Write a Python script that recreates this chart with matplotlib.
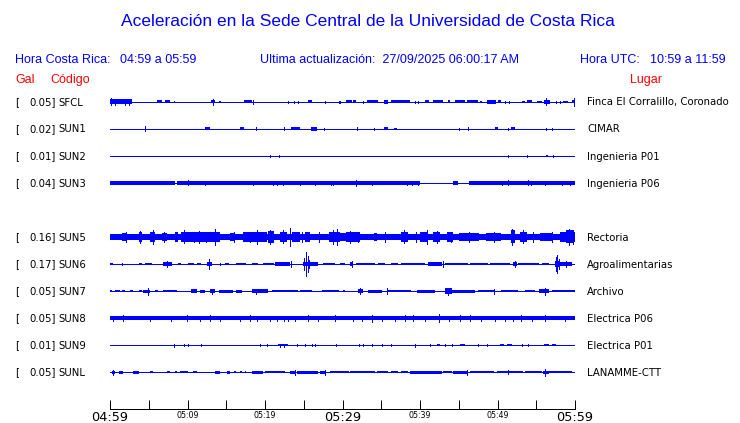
import matplotlib
matplotlib.use("Agg")
import matplotlib.pyplot as plt

# ---------------- data ----------------
title = "Aceleración en la Sede Central de la Universidad de Costa Rica"
hora_cr = "04:59 a 05:59"
hora_utc = "10:59 a 11:59"
actualizacion = "27/09/2025 06:00:17 AM"

stations = ["SFCL", "SUN1", "SUN2", "SUN3", "SUN5", "SUN6", "SUN7", "SUN8", "SUN9", "SUNL"]
gal = [0.05, 0.02, 0.01, 0.04, 0.16, 0.17, 0.05, 0.05, 0.01, 0.05]
places = ["Finca El Corralillo, Coronado", "CIMAR", "Ingenieria P01", "Ingenieria P06",
          "Rectoria", "Agroalimentarias", "Archivo", "Electrica P06", "Electrica P01",
          "LANAMME-CTT"]

tick_minutes = [0, 5, 10, 15, 20, 25, 30, 35, 40, 45, 50, 55, 60]
tick_labels = ["04:59", "", "05:09", "", "05:19", "", "05:29", "", "05:39", "", "05:49", "", "05:59"]
big_labels = ["04:59", "05:29", "05:59"]

# bursts: (start minute, end minute, half amplitude in px) ; spikes: (minute, half amplitude px)
sfcl_bursts = [(0, 2.8, 2.5), (6.0, 6.7, 1.5), (7.1, 7.7, 1.5), (8.3, 8.45, 1.0), (13.0, 13.5, 1.5),
               (14.0, 14.3, 1.2), (14.8, 14.9, 1.0), (17.3, 18.3, 1.5), (25.5, 26.0, 1.5),
               (30.5, 31.2, 1.5), (31.4, 31.8, 1.5), (33.1, 34.6, 1.5), (35.4, 35.9, 1.7),
               (36.3, 38.7, 1.5), (40.6, 41.2, 1.5), (41.7, 43.0, 1.5), (43.6, 43.9, 1.5),
               (44.5, 45.8, 1.5), (46.0, 47.5, 1.5), (47.7, 48.0, 1.0), (48.6, 49.8, 1.7),
               (50.0, 50.5, 1.5), (53.1, 53.5, 1.2), (53.8, 54.4, 1.5), (55.1, 55.7, 1.0),
               (56.0, 56.8, 1.7), (58.5, 59.1, 1.0), (59.6, 59.9, 1.5)]
sfcl_spikes = [(0.1, 3.5), (0.6, 3.0), (1.9, 3.0), (2.4, 3.0), (13.3, 3.0), (18.4, 2.0), (23.0, 1.2),
               (23.7, 1.2), (24.3, 1.2), (27.7, 1.2), (29.5, 1.2), (29.7, 1.2), (32.7, 1.2),
               (39.4, 1.2), (39.8, 1.2), (51.0, 1.2), (51.5, 1.4), (56.2, 3.5), (57.6, 1.2),
               (58.1, 1.2), (59.9, 4.0)]

sun1_bursts = [(12.3, 12.9, 1.5), (16.8, 17.3, 1.5), (23.4, 24.5, 1.5), (25.9, 26.7, 1.7),
               (35.3, 35.9, 1.5), (36.6, 37.0, 1.2), (49.7, 50.0, 1.5), (51.8, 52.3, 1.5)]
sun1_spikes = [(4.5, 2.5), (18.8, 1.5), (22.4, 1.5), (27.6, 1.0), (31.9, 1.5), (34.0, 1.0),
               (45.0, 1.0), (46.2, 1.5), (51.3, 1.0), (56.3, 1.0), (57.0, 1.0)]

sun2_bursts = [(56.3, 56.5, 1.2)]
sun2_spikes = [(20.7, 1.0), (21.8, 1.0), (51.3, 1.0), (53.8, 1.0), (57.1, 1.0)]

sun3_bursts = [(0, 8.4, 1.7), (8.6, 40.0, 1.7), (44.3, 44.9, 1.7), (46.3, 60, 1.7)]
sun3_spikes = [(10.0, 2.5), (12.2, 2.0), (18.5, 2.2), (21.0, 2.0), (21.5, 2.0), (22.3, 2.2),
               (24.5, 2.0), (26.4, 2.0), (28.5, 2.2), (28.8, 2.2), (31.8, 3.0), (33.8, 2.2),
               (38.3, 2.0), (39.0, 2.0), (39.8, 2.0), (50.6, 2.0), (51.3, 2.5), (53.9, 2.5),
               (54.3, 2.2), (56.1, 2.0), (58.3, 2.0), (59.4, 2.0)]

sun5_bursts = [(0, 60, 3.0), (1.5, 2.1, 4.0), (3.7, 4.1, 5.0), (5.2, 5.8, 5.5), (6.7, 7.3, 4.0),
               (8.4, 8.8, 4.5), (9.2, 9.9, 5.5), (9.9, 14.2, 4.5), (15.5, 16.0, 4.0),
               (17.2, 20.2, 4.5), (20.4, 21.1, 6.0), (21.9, 22.8, 5.5), (23.5, 24.5, 4.5),
               (25.2, 25.8, 4.5), (28.2, 29.7, 5.5), (29.7, 30.5, 4.0), (30.5, 32.3, 4.5),
               (34.0, 34.5, 4.0), (37.6, 38.5, 5.5), (40.0, 41.0, 4.5), (41.7, 42.6, 5.0),
               (43.5, 44.3, 4.5), (45.0, 47.6, 4.2), (48.5, 50.5, 4.0), (51.8, 52.3, 6.5),
               (52.9, 53.8, 5.5), (55.5, 57.2, 4.2), (58.0, 60, 4.5), (58.9, 59.8, 6.5)]
sun5_spikes = [(2.0, 4.5), (3.9, 6.0), (5.5, 7.0), (7.0, 5.0), (9.6, 6.5), (10.8, 5.5), (11.5, 6.0),
               (12.4, 5.5), (13.5, 8.0), (16.0, 5.0), (18.0, 5.5), (19.0, 7.0), (20.6, 7.5),
               (22.3, 6.5), (23.2, 9.0), (24.8, 5.5), (27.0, 5.0), (28.8, 7.0), (29.3, 8.0),
               (31.0, 6.0), (32.0, 5.5), (35.5, 5.0), (37.9, 6.5), (39.5, 5.0), (40.9, 7.0),
               (42.2, 6.0), (44.0, 5.5), (46.3, 5.5), (49.5, 5.0), (51.9, 8.0), (53.3, 6.5),
               (54.6, 5.0), (57.0, 5.5), (59.2, 8.0), (59.7, 7.0)]

sun6_bursts = [(0, 0.4, 1.5), (3.7, 4.1, 1.2), (4.5, 5.4, 1.5), (6.9, 8.0, 1.8), (8.8, 9.2, 1.5),
               (10.1, 10.8, 1.5), (11.2, 11.8, 1.5), (12.5, 13.1, 1.8), (14.8, 15.3, 1.5),
               (16.3, 17.6, 1.5), (18.3, 19.1, 1.5), (19.8, 21.1, 1.5), (21.3, 23.2, 1.7),
               (24.9, 25.8, 2.5), (25.8, 26.8, 1.8), (27.5, 29.0, 1.0), (29.7, 30.3, 1.5),
               (31.0, 31.4, 2.5), (31.8, 34.2, 1.5), (34.6, 35.5, 1.5), (36.3, 37.2, 1.2),
               (37.6, 40.6, 1.5), (41.0, 42.8, 1.7), (43.2, 46.2, 1.5), (46.4, 48.8, 1.5),
               (49.0, 51.6, 1.5), (52.0, 52.5, 2.5), (52.7, 55.3, 1.5), (55.7, 56.6, 1.2),
               (57.4, 57.9, 3.0), (57.9, 59.6, 2.2)]
sun6_spikes = [(1.5, 1.2), (7.4, 3.0), (12.8, 5.0), (14.2, 1.2), (23.4, 3.0), (25.0, 6.0),
               (25.3, 12.0), (25.5, 8.0), (25.7, 4.0), (31.2, 3.0), (43.0, 3.0), (52.3, 3.0),
               (57.5, 7.0), (57.65, 8.5), (57.9, 5.0), (58.8, 3.0)]

sun7_bursts = [(0, 0.3, 1.0), (0.7, 1.3, 1.0), (1.5, 1.9, 1.0), (2.6, 3.0, 1.0), (3.7, 4.1, 1.0),
               (4.3, 5.2, 1.5), (5.8, 6.2, 1.0), (6.9, 8.6, 1.2), (10.5, 11.2, 1.7),
               (11.6, 12.3, 1.5), (12.9, 13.5, 2.0), (14.0, 15.9, 1.5), (16.3, 17.0, 1.5),
               (18.3, 20.4, 1.7), (20.9, 24.3, 1.3), (24.5, 26.0, 1.3), (27.3, 29.5, 1.3),
               (30.0, 30.3, 1.0), (32.0, 32.7, 2.3), (33.3, 35.1, 1.5), (35.9, 38.9, 1.3),
               (39.6, 41.9, 1.5), (43.2, 44.1, 2.8), (44.1, 47.1, 1.5), (47.5, 49.5, 1.3),
               (50.5, 52.7, 1.3), (53.5, 54.8, 1.2), (55.3, 56.6, 2.3), (57.0, 60, 1.3)]
sun7_spikes = [(4.9, 3.5), (13.2, 2.5), (18.9, 2.5), (32.3, 3.0), (35.7, 3.0), (43.6, 3.5),
               (49.5, 2.5), (56.1, 3.5)]

sun8_bursts = [(0, 60, 1.8)]
sun8_spikes = [(0.4, 2.5), (1.7, 2.8), (5.2, 2.5), (7.9, 2.5), (9.9, 2.8), (11.6, 2.5), (12.9, 2.8),
               (14.2, 2.5), (16.8, 2.5), (18.1, 2.8), (19.0, 2.5), (20.6, 2.5), (21.5, 2.5),
               (22.4, 2.5), (23.0, 2.5), (23.9, 2.5), (25.6, 2.8), (26.9, 2.5), (29.0, 2.8),
               (31.4, 2.5), (32.5, 2.5), (33.8, 3.5), (35.1, 2.5), (36.8, 2.5), (38.0, 2.8),
               (39.1, 3.0), (40.6, 2.5), (42.4, 4.0), (43.7, 2.5), (45.2, 2.8), (46.5, 2.8),
               (47.9, 2.5), (49.7, 2.5), (51.0, 2.5), (52.0, 2.5), (53.0, 2.8), (54.4, 2.5),
               (56.1, 3.0), (58.7, 2.5)]

sun9_bursts = [(21.7, 23.0, 0.8), (42.2, 42.6, 1.2), (45.2, 45.8, 1.2), (50.3, 50.8, 1.0),
               (51.2, 51.9, 1.2), (56.0, 56.6, 1.2), (57.0, 57.5, 1.2)]
sun9_spikes = [(8.2, 1.5), (9.6, 1.0), (10.0, 1.0), (11.7, 1.0), (19.3, 1.0), (20.3, 1.0),
               (21.9, 1.5), (22.4, 1.5), (24.1, 1.0), (25.1, 1.0), (26.0, 1.0), (26.5, 1.2),
               (29.1, 1.0), (32.1, 1.2), (32.7, 1.0), (33.8, 1.2), (35.1, 1.0), (36.3, 1.0),
               (39.4, 1.5), (41.3, 1.0), (43.2, 1.0), (44.1, 1.0), (47.5, 1.0), (48.7, 1.2),
               (53.1, 1.0), (53.9, 1.0)]

sunl_bursts = [(0.2, 0.7, 1.5), (1.1, 1.7, 1.5), (3.0, 3.7, 1.5), (5.2, 5.6, 1.0), (7.3, 7.7, 1.0),
               (8.4, 8.7, 1.0), (9.0, 10.1, 0.8), (10.7, 11.2, 1.0), (13.5, 14.2, 1.5),
               (15.1, 15.5, 1.5), (16.0, 16.2, 1.0), (16.8, 17.0, 1.0), (17.4, 17.6, 1.0),
               (18.3, 19.8, 1.5), (20.0, 22.6, 1.2), (23.2, 23.9, 1.5), (24.1, 26.9, 1.5),
               (27.1, 27.7, 1.5), (28.4, 30.8, 1.2), (31.0, 34.2, 1.2), (34.4, 35.9, 1.2),
               (36.3, 37.2, 1.2), (37.6, 38.5, 1.0), (38.7, 42.8, 1.5), (43.0, 44.1, 1.2),
               (44.3, 46.0, 1.5), (46.5, 49.5, 1.3), (49.9, 53.3, 1.3), (53.5, 55.7, 1.3),
               (55.9, 56.6, 1.5), (56.6, 59.6, 1.2)]
sunl_spikes = [(0.4, 2.5), (23.9, 2.5), (27.7, 2.5), (46.0, 2.5), (51.4, 2.0), (56.1, 3.5)]

bursts = [sfcl_bursts, sun1_bursts, sun2_bursts, sun3_bursts, sun5_bursts,
          sun6_bursts, sun7_bursts, sun8_bursts, sun9_bursts, sunl_bursts]
spikes = [sfcl_spikes, sun1_spikes, sun2_spikes, sun3_spikes, sun5_spikes,
          sun6_spikes, sun7_spikes, sun8_spikes, sun9_spikes, sunl_spikes]

# ---------------- layout ----------------
W, H = 740, 423
BLUE = "#0000ff"
RED = "#ff0000"
HEAD = "Liberation Sans"
LAB = "DejaVu Sans"
ROW_PX = 27.0
x0_px, x1_px = 110, 575
top_px = 102 - 0.5 * ROW_PX
bot_px = 102 + 10.5 * ROW_PX

fig = plt.figure(figsize=(W / 100, H / 100), dpi=100)
fig.patch.set_facecolor("white")

ax = fig.add_axes([x0_px / W, 1 - bot_px / H, (x1_px - x0_px) / W, (bot_px - top_px) / H])
ax.set_xlim(0, 60)
ax.set_ylim(10.5, -0.5)
ax.axis("off")

k = 1.0 / ROW_PX
px = 0.72  # 1 pixel in points
slots = [i if i < 4 else i + 1 for i in range(len(stations))]

for slot, b_list, s_list in zip(slots, bursts, spikes):
    ax.plot([0, 60], [slot, slot], color=BLUE, lw=1.0 * px, solid_capstyle="butt", antialiased=False)
    for (s, e, a) in b_list:
        ax.fill_between([s, e], [slot - a * k] * 2, [slot + a * k] * 2, color=BLUE, lw=0,
                        antialiased=False)
    for (t, a) in s_list:
        ax.vlines(t, slot - a * k, slot + a * k, color=BLUE, lw=1.0 * px, antialiased=False)

# station labels
for slot, st, g, pl in zip(slots, stations, gal, places):
    ypx = 102.5 + slot * ROW_PX
    yf = 1 - ypx / H
    fig.text(15 / W, yf, "[", ha="left", va="center", fontsize=7.3, family=LAB)
    fig.text(55.5 / W, yf, f"{g:.2f}]", ha="right", va="center", fontsize=7.3, family=LAB)
    fig.text(58 / W, yf, st, ha="left", va="center", fontsize=7.3, family=LAB)
    fig.text(587 / W, yf, pl, ha="left", va="center", fontsize=7.3, family=LAB)

# header texts
fig.text(368 / W, 1 - 21 / H, title, ha="center", va="center", fontsize=12.5, color=BLUE, family=HEAD)
fig.text(15 / W, 1 - 60 / H, "Hora Costa Rica:", ha="left", va="center", fontsize=9, color=BLUE, family=HEAD)
fig.text(120 / W, 1 - 60 / H, hora_cr, ha="left", va="center", fontsize=9, color=BLUE, family=HEAD)
fig.text(260 / W, 1 - 60 / H, "Ultima actualización:  " + actualizacion, ha="left", va="center",
         fontsize=9, color=BLUE, family=HEAD)
fig.text(580 / W, 1 - 60 / H, "Hora UTC:", ha="left", va="center", fontsize=9, color=BLUE, family=HEAD)
fig.text(650 / W, 1 - 60 / H, hora_utc, ha="left", va="center", fontsize=9, color=BLUE, family=HEAD)
fig.text(15 / W, 1 - 80 / H, "Gal", ha="left", va="center", fontsize=9, color=RED, family=HEAD)
fig.text(50 / W, 1 - 80 / H, "Código", ha="left", va="center", fontsize=9, color=RED, family=HEAD)
fig.text(630 / W, 1 - 80 / H, "Lugar", ha="left", va="center", fontsize=9, color=RED, family=HEAD)

# time axis
axis_px = 408.5
axt = fig.add_axes([x0_px / W, 1 - axis_px / H, (x1_px - x0_px) / W, 0.5 / H])
axt.set_xlim(0, 60)
axt.set_ylim(0, 1)
axt.patch.set_alpha(0)
for sp in ["top", "left", "right"]:
    axt.spines[sp].set_visible(False)
axt.spines["bottom"].set_linewidth(1.0 * px)
axt.set_yticks([])
axt.set_xticks(tick_minutes)
axt.set_xticklabels(tick_labels)
axt.tick_params(axis="x", direction="in", length=9 * px, width=1.0 * px, pad=1.5)
for lbl in axt.get_xticklabels():
    lbl.set_family(LAB)
    if lbl.get_text() in big_labels:
        lbl.set_fontsize(9.3)
    else:
        lbl.set_fontsize(5.7)

fig.savefig("out.png", dpi=100, facecolor="white")
